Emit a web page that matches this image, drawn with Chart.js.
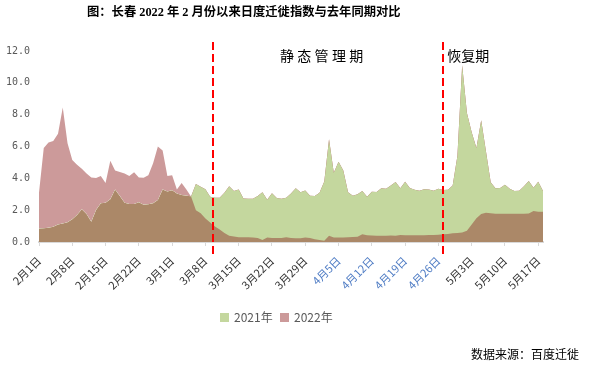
<!DOCTYPE html>
<html>
<head>
<meta charset="utf-8">
<script src="https://cdn.jsdelivr.net/npm/chart.js@4/dist/chart.umd.min.js"></script>
<style>
html,body{margin:0;padding:0;background:#fff;}
canvas{display:block;}
</style>
</head>
<body>
<canvas id="c" width="598" height="369"></canvas>
<script>
// ---- data ----
const monthLengths = [[2, 28], [3, 31], [4, 30], [5, 18]];
const categories = [];
monthLengths.forEach(([m, n]) => { for (let d = 1; d <= n; d++) categories.push(m + '月' + d + '日'); });

const series2021 = [
  0.85, 0.87, 0.9, 0.96, 1.1, 1.17, 1.24, 1.43, 1.7, 2.05,
  1.76, 1.28, 2.01, 2.43, 2.47, 2.68, 3.3, 2.89, 2.47, 2.39,
  2.39, 2.49, 2.34, 2.37, 2.43, 2.64, 3.3, 3.18, 3.25, 3.05,
  2.95, 2.9, 2.87, 3.64, 3.47, 3.31, 2.85, 2.78, 2.78, 3.1,
  3.5, 3.2, 3.3, 2.74, 2.72, 2.72, 2.89, 3.12, 2.66, 3.06,
  2.76, 2.72, 2.78, 3.05, 3.37, 3.12, 3.24, 2.9, 2.89, 3.1,
  3.8, 6.45, 4.35, 5.04, 4.5, 3.12, 2.91, 3.0, 3.2, 2.85,
  3.16, 3.14, 3.37, 3.35, 3.55, 3.77, 3.37, 3.78, 3.4, 3.28,
  3.22, 3.31, 3.3, 3.22, 3.35, 3.27, 3.28, 3.55, 5.4, 11.1,
  8.1, 6.9, 5.9, 7.65, 5.7, 3.75, 3.37, 3.4, 3.6, 3.35,
  3.2, 3.22, 3.5, 3.83, 3.41, 3.79, 3.2
];
const series2022 = [
  3.1, 5.9, 6.25, 6.35, 6.8, 8.45, 6.2, 5.15, 4.85, 4.6,
  4.3, 4.05, 4.02, 4.15, 3.7, 5.1, 4.5, 4.4, 4.3, 4.15,
  4.38, 4.06, 4.04, 4.2, 4.95, 6.0, 5.75, 4.15, 4.2, 3.3,
  3.7, 3.3, 2.85, 2.0, 1.8, 1.47, 1.22, 0.97, 0.78, 0.57,
  0.4, 0.34, 0.3, 0.3, 0.3, 0.28, 0.25, 0.13, 0.29, 0.25,
  0.25, 0.25, 0.3, 0.25, 0.23, 0.23, 0.29, 0.25, 0.18, 0.12,
  0.08, 0.4, 0.29, 0.29, 0.29, 0.3, 0.31, 0.33, 0.48, 0.42,
  0.41, 0.4, 0.4, 0.4, 0.41, 0.4, 0.44, 0.43, 0.42, 0.42,
  0.42, 0.43, 0.44, 0.44, 0.46, 0.48, 0.5, 0.55, 0.57, 0.6,
  0.7, 1.1, 1.5, 1.76, 1.83, 1.8, 1.78, 1.78, 1.78, 1.77,
  1.78, 1.78, 1.78, 1.79, 1.95, 1.9, 1.9
];
const seriesNames = ['2021年', '2022年'];
const yTicks = [0, 2, 4, 6, 8, 10, 12];
const periodMarkers = [36.5, 85];          // category positions of the dashed lines
const periodLabels = ['静态管理期', '恢复期'];
const titleText = '图：长春 2022 年 2 月份以来日度迁徙指数与去年同期对比';
const sourceText = '数据来源：百度迁徙';

// ---- styles ----
const GREEN = '#c4d79e';
const PINK = '#cc9a9a';
const BROWN = '#ab8868';
const CJK = "'Noto Sans CJK SC'";

function spacedText(ctx, text, x, y, step) {
  [...text].forEach((ch, i) => ctx.fillText(ch, x + i * step, y));
}

const annot = {
  id: 'annot',
  afterDatasetsDraw(chart) {
    const ctx = chart.ctx, xs = chart.scales.x;
    ctx.save();
    ctx.strokeStyle = '#ff0000';
    ctx.lineWidth = 2;
    ctx.setLineDash([8, 4]);
    periodMarkers.forEach(v => {
      const x = Math.round(xs.getPixelForValue(v));
      ctx.beginPath();
      ctx.moveTo(x, 42);
      ctx.lineTo(x, 256);
      ctx.stroke();
    });
    ctx.restore();
  },
  afterDraw(chart) {
    const ctx = chart.ctx, xs = chart.scales.x;
    ctx.save();
    // title
    ctx.fillStyle = '#000';
    ctx.textBaseline = 'middle';
    ctx.textAlign = 'left';
    ctx.font = "bold 12.3px 'Liberation Serif', " + CJK;
    ctx.fillText(titleText, 87, 13);
    // period labels
    ctx.font = "14px " + CJK;
    spacedText(ctx, periodLabels[0], 280, 56, 17.3);
    ctx.fillText(periodLabels[1], xs.getPixelForValue(periodMarkers[1]) + 4, 56);
    // legend
    ctx.font = "12px " + CJK;
    ctx.fillStyle = GREEN; ctx.fillRect(220, 313, 9, 9);
    ctx.fillStyle = PINK; ctx.fillRect(280, 313, 9, 9);
    ctx.fillStyle = '#595959';
    ctx.fillText(seriesNames[0], 234, 317.5);
    ctx.fillText(seriesNames[1], 294, 317.5);
    // source
    ctx.fillStyle = '#000';
    ctx.font = "12px " + CJK;
    ctx.textAlign = 'right';
    ctx.fillText(sourceText, 579, 354);
    ctx.restore();
  }
};

new Chart(document.getElementById('c'), {
  type: 'line',
  data: {
    labels: categories,
    datasets: [
      {
        label: seriesNames[0], data: series2021, order: 2,
        fill: 'origin', backgroundColor: BROWN, borderWidth: 0, pointRadius: 0, tension: 0
      },
      {
        label: seriesNames[1], data: series2022, order: 1,
        fill: { target: 0, above: PINK, below: GREEN },
        backgroundColor: PINK, borderWidth: 0, pointRadius: 0, tension: 0
      }
    ]
  },
  options: {
    responsive: false,
    animation: false,
    layout: { padding: { left: 0, right: 55, top: 51, bottom: 0 } },
    plugins: { legend: { display: false }, tooltip: { enabled: false }, title: { display: false } },
    scales: {
      x: {
        type: 'category',
        offset: false,
        grid: {
          display: true, drawOnChartArea: false, drawTicks: true, tickLength: 4,
          color: c => (c.index % 7 === 0 ? '#d9d9d9' : 'rgba(0,0,0,0)')
        },
        border: { display: true, color: '#d9d9d9', width: 2 },
        ticks: {
          autoSkip: false, maxRotation: 45, minRotation: 45, padding: 8,
          font: { size: 11, family: CJK },
          color: c => (categories[c.index] && categories[c.index].startsWith('4月') ? '#4f7cc4' : '#333333'),
          callback: (v, i) => (i % 7 === 0 ? categories[i] : '')
        },
        afterFit: s => { s.height = 127; }
      },
      y: {
        min: 0, max: 12,
        afterBuildTicks: s => { s.ticks = yTicks.map(v => ({ value: v })); },
        grid: { display: false },
        border: { display: false },
        ticks: {
          padding: 1, color: '#595959',
          font: { size: 10, family: "'DejaVu Sans Mono'" },
          callback: v => Number(v).toFixed(1)
        },
        afterFit: s => { s.width = 39; }
      }
    }
  },
  plugins: [annot]
});
</script>
</body>
</html>
